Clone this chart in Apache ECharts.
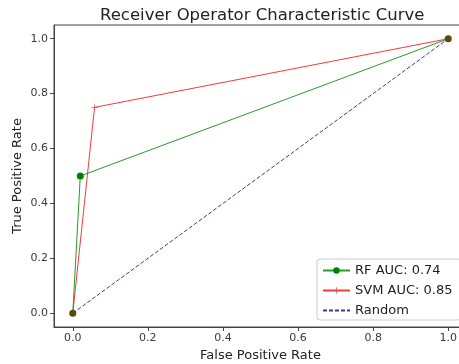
<!DOCTYPE html>
<html>
<head>
<meta charset="utf-8">
<script src="https://cdn.jsdelivr.net/npm/echarts@6/dist/echarts.min.js"></script>
<style>
  html, body { margin: 0; padding: 0; background: #fff; }
  #roc { width: 459px; height: 364px; }
</style>
</head>
<body>
<div id="roc"></div>
<script>
// ROC points [fpr, tpr]
var rfPoints = [[0, 0], [0.02, 0.5], [1, 1]]
var svmPoints = [[0, 0], [0.058, 0.75], [1, 1]]
var randomPoints = [[0, 0], [1, 1]]
var tickValues = [0, 0.2, 0.4, 0.6, 0.8, 1.0]
var seriesNames = ['RF AUC: 0.74', 'SVM AUC: 0.85', 'Random']

var plusPath = 'path://M4.5,0 L5.5,0 L5.5,4.5 L10,4.5 L10,5.5 L5.5,5.5 L5.5,10 L4.5,10 L4.5,5.5 L0,5.5 L0,4.5 L4.5,4.5 Z'
var font = 'DejaVu Sans'

function axisOf(name, nameGap) {
    return {
        type: 'value',
        min: -0.05,
        max: 1.05,
        name: name,
        nameLocation: 'middle',
        nameGap: nameGap,
        nameMoveOverlap: false,
        nameTextStyle: { fontFamily: font, fontSize: 13, color: '#222' },
        splitLine: { show: false },
        axisLine: { show: true, onZero: false, lineStyle: { color: '#444', width: 1 } },
        axisTick: { show: true, length: 4, lineStyle: { color: '#444' }, customValues: tickValues },
        axisLabel: {
            fontFamily: font, fontSize: 11, color: '#3a3a3a', margin: 6,
            customValues: tickValues,
            formatter: function (v) { return v.toFixed(1) }
        }
    }
}

var myChart = echarts.init(document.getElementById('roc'))
myChart.setOption({
    animation: false,
    backgroundColor: '#fff',
    title: {
        text: 'Receiver Operator Characteristic Curve',
        left: 95,
        top: 2,
        textStyle: { fontFamily: font, fontSize: 16.5, fontWeight: 'normal', color: '#222' }
    },
    grid: {
        left: 54, top: 25, right: -8, bottom: 37,
        outerBoundsMode: 'none',
        containLabel: false,
        show: true, borderColor: '#444', borderWidth: 1
    },
    xAxis: axisOf('False Positive Rate', 22),
    yAxis: axisOf('True Positive Rate', 30),
    legend: {
        orient: 'vertical',
        left: 317,
        top: 259,
        itemWidth: 27,
        itemHeight: 8,
        itemGap: 7,
        padding: [5, 8, 3, 5],
        backgroundColor: '#fff',
        borderColor: '#ccc',
        borderWidth: 1,
        borderRadius: 3,
        textStyle: { fontFamily: font, fontSize: 13, color: '#222' },
        data: [
            { name: seriesNames[0] },
            { name: seriesNames[1] },
            { name: seriesNames[2], itemStyle: { opacity: 0 } }
        ]
    },
    series: [
        {
            name: seriesNames[2],
            type: 'line',
            data: randomPoints,
            symbol: 'none',
            lineStyle: { color: '#3a3a9a', width: 1, type: [4, 2] },
            itemStyle: { color: '#3a3a9a' },
            z: 2
        },
        {
            name: seriesNames[0],
            type: 'line',
            data: rfPoints.map(function (p, i) {
                var end = i === 0 || i === rfPoints.length - 1
                return end ? { value: p, itemStyle: { color: '#5a4a10' } } : p
            }),
            symbol: 'circle',
            symbolSize: 7,
            showAllSymbol: true,
            lineStyle: { color: '#2a9a2a', width: 1 },
            itemStyle: { color: '#008000' },
            z: 4
        },
        {
            name: seriesNames[1],
            type: 'line',
            data: svmPoints,
            symbol: plusPath,
            symbolSize: 6,
            showAllSymbol: true,
            lineStyle: { color: '#f03c3c', width: 1 },
            itemStyle: { color: '#f03c3c' },
            z: 3
        }
    ]
})
</script>
</body>
</html>
